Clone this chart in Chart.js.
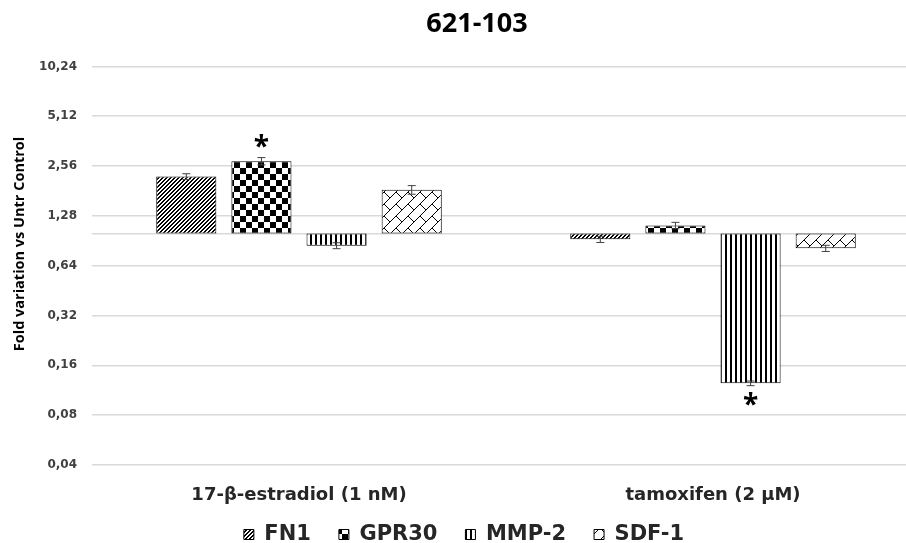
<!DOCTYPE html>
<html>
<head>
<meta charset="utf-8">
<script src="https://cdn.jsdelivr.net/npm/chart.js@4.4.1/dist/chart.umd.min.js"></script>
<style>
  html, body { margin: 0; padding: 0; background: #fff; overflow: hidden; }
  #wrap { width: 920px; height: 543px; }
</style>
</head>
<body>
<div id="wrap"><canvas id="chart" width="920" height="543"></canvas></div>
<script>
// Data
var categories = ['17-β-estradiol (1 nM)', 'tamoxifen (2 µM)'];
var seriesNames = ['FN1', 'GPR30', 'MMP-2', 'SDF-1'];

var fn1 = [2.21, 0.924];
var gpr30 = [2.74, 1.12];
var mmp2 = [0.846, 0.1246];
var sdf1 = [1.84, 0.815];

var fn1Err = [0.09, 0.04];
var gpr30Err = [0.14, 0.05];
var mmp2Err = [0.035, 0.004];
var sdf1Err = [0.11, 0.035];

// significance marks (asterisks)
var fn1Star = [false, false];
var gpr30Star = [true, false];
var mmp2Star = [false, true];
var sdf1Star = [false, false];

var baseline = 1;
var tickValues = [0.04, 0.08, 0.16, 0.32, 0.64, 1.28, 2.56, 5.12, 10.24];
var tickLabels = ['0,04', '0,08', '0,16', '0,32', '0,64', '1,28', '2,56', '5,12', '10,24'];
var yTitle = 'Fold variation vs Untr Control';

var FONT = "'Open Sans', 'DejaVu Sans', sans-serif";
var WIDE_FONT = "'DejaVu Sans', sans-serif";

// Builds the black and white fill patterns for the bars
function makePattern(kind) {
    var c = document.createElement('canvas');
    var g = c.getContext('2d');
    var s;
    if (kind == 'diagonal') {
        s = 4;
        c.width = c.height = s;
        g.fillStyle = '#fff'; g.fillRect(0, 0, s, s);
        g.fillStyle = '#000';
        for (var y = 0; y < s; y++) {
            g.fillRect((s - 1 - y + s) % s, y, 1, 1);
            g.fillRect((s - y) % s, y, 1, 1);
        }
    } else if (kind == 'checker') {
        s = 12;
        c.width = c.height = s;
        g.fillStyle = '#fff'; g.fillRect(0, 0, s, s);
        g.fillStyle = '#000';
        g.fillRect(0, 0, s / 2, s / 2);
        g.fillRect(s / 2, s / 2, s / 2, s / 2);
    } else if (kind == 'vertical') {
        c.width = 5; c.height = 5;
        g.fillStyle = '#fff'; g.fillRect(0, 0, 5, 5);
        g.fillStyle = '#000'; g.fillRect(0, 0, 2, 5);
    } else {
        s = 12;
        c.width = c.height = s;
        g.fillStyle = '#fff'; g.fillRect(0, 0, s, s);
        g.strokeStyle = '#000'; g.lineWidth = 1;
        g.beginPath();
        g.moveTo(-1, s + 1); g.lineTo(s + 1, -1);
        g.moveTo(0, 0); g.lineTo(s / 2, s / 2);
        g.stroke();
    }
    return g.createPattern(c, 'repeat');
}

function floating(values) {
    return values.map(v => [baseline, v]);
}

// Error bars and asterisks, drawn after the bars
var errorBarPlugin = {
    id: 'errorBars',
    afterDatasetsDraw(chart) {
        var ctx = chart.ctx;
        var yScale = chart.scales.y;
        ctx.save();
        chart.data.datasets.forEach((ds, di) => {
            var meta = chart.getDatasetMeta(di);
            meta.data.forEach((bar, i) => {
                var v = ds.data[i][1];
                var e = ds.errors[i];
                var yHi = yScale.getPixelForValue(v + e);
                var yLo = yScale.getPixelForValue(v - e);
                var x = bar.x;
                ctx.strokeStyle = '#404040';
                ctx.lineWidth = 1;
                ctx.beginPath();
                ctx.moveTo(x, yHi); ctx.lineTo(x, yLo);
                ctx.moveTo(x - 4, yHi); ctx.lineTo(x + 4, yHi);
                ctx.moveTo(x - 4, yLo); ctx.lineTo(x + 4, yLo);
                ctx.stroke();
                if (ds.stars[i]) {
                    ctx.fillStyle = '#000';
                    ctx.font = 'bold 28px ' + FONT;
                    ctx.textAlign = 'center';
                    ctx.textBaseline = 'middle';
                    var ys = v > baseline ? yHi - 10 : yLo + 20;
                    ctx.fillText('*', x, ys);
                }
            });
        });
        ctx.restore();
    }
};

// Y axis title, centred on the whole picture height like the original
var yTitlePlugin = {
    id: 'yTitle',
    afterDraw(chart) {
        var ctx = chart.ctx;
        ctx.save();
        ctx.translate(20, 244);
        ctx.rotate(-Math.PI / 2);
        ctx.fillStyle = '#000';
        ctx.font = 'bold 14.5px ' + FONT;
        ctx.textAlign = 'center';
        ctx.textBaseline = 'middle';
        ctx.fillText(yTitle, 0, 0);
        ctx.restore();
    }
};

// Nudges the title right and the legend up, as in the original layout
var layoutShiftPlugin = {
    id: 'layoutShift',
    afterLayout(chart) {
        chart.titleBlock.left += 13;
        chart.titleBlock.right += 13;
        chart.legend.top -= 19;
        chart.legend.bottom -= 19;
    }
};

function dataset(label, values, errors, stars, kind) {
    return {
        label: label,
        data: floating(values),
        errors: errors,
        stars: stars,
        backgroundColor: makePattern(kind),
        borderColor: '#000',
        borderWidth: 1,
        borderSkipped: false,
        barPercentage: 0.8,
        categoryPercentage: 0.726
    };
}

var config = {
    type: 'bar',
    data: {
        labels: categories,
        datasets: [
            dataset(seriesNames[0], fn1, fn1Err, fn1Star, 'diagonal'),
            dataset(seriesNames[1], gpr30, gpr30Err, gpr30Star, 'checker'),
            dataset(seriesNames[2], mmp2, mmp2Err, mmp2Star, 'vertical'),
            dataset(seriesNames[3], sdf1, sdf1Err, sdf1Star, 'brick')
        ]
    },
    options: {
        responsive: false,
        animation: false,
        layout: { padding: { left: 8, top: 0, right: 0, bottom: -31 } },
        plugins: {
            title: {
                display: true,
                text: '621-103',
                color: '#000',
                font: { family: FONT, size: 27, weight: 'bold' },
                padding: { top: 8, bottom: 26 }
            },
            legend: {
                position: 'bottom',
                labels: {
                    boxWidth: 10,
                    boxHeight: 10,
                    padding: 28,
                    color: '#262626',
                    font: { family: WIDE_FONT, size: 21, weight: 'bold' }
                }
            },
            tooltip: { enabled: false }
        },
        scales: {
            x: {
                grid: { display: false },
                border: { display: false },
                afterFit: (scale) => { scale.height = 50; },
                ticks: {
                    color: '#262626',
                    padding: 12,
                    font: { family: WIDE_FONT, size: 18, weight: 'bold' }
                }
            },
            y: {
                type: 'logarithmic',
                min: tickValues[0],
                max: tickValues[tickValues.length - 1],
                afterBuildTicks: (scale) => {
                    var vals = tickValues.concat([baseline]).sort((a, b) => a - b);
                    scale.ticks = vals.map(v => ({ value: v }));
                },
                afterFit: (scale) => { scale.width = 84; },
                grid: { color: '#d9d9d9', lineWidth: 1.5, drawTicks: false },
                border: { display: false },
                ticks: {
                    autoSkip: false,
                    padding: 15,
                    color: '#404040',
                    font: { family: WIDE_FONT, size: 12, weight: 'bold' },
                    callback: (value) => {
                        var k = tickValues.indexOf(value);
                        return k >= 0 ? tickLabels[k] : '';
                    }
                }
            }
        }
    },
    plugins: [errorBarPlugin, yTitlePlugin, layoutShiftPlugin]
};

var chartObj = new Chart(document.getElementById('chart'), config);
</script>
</body>
</html>
